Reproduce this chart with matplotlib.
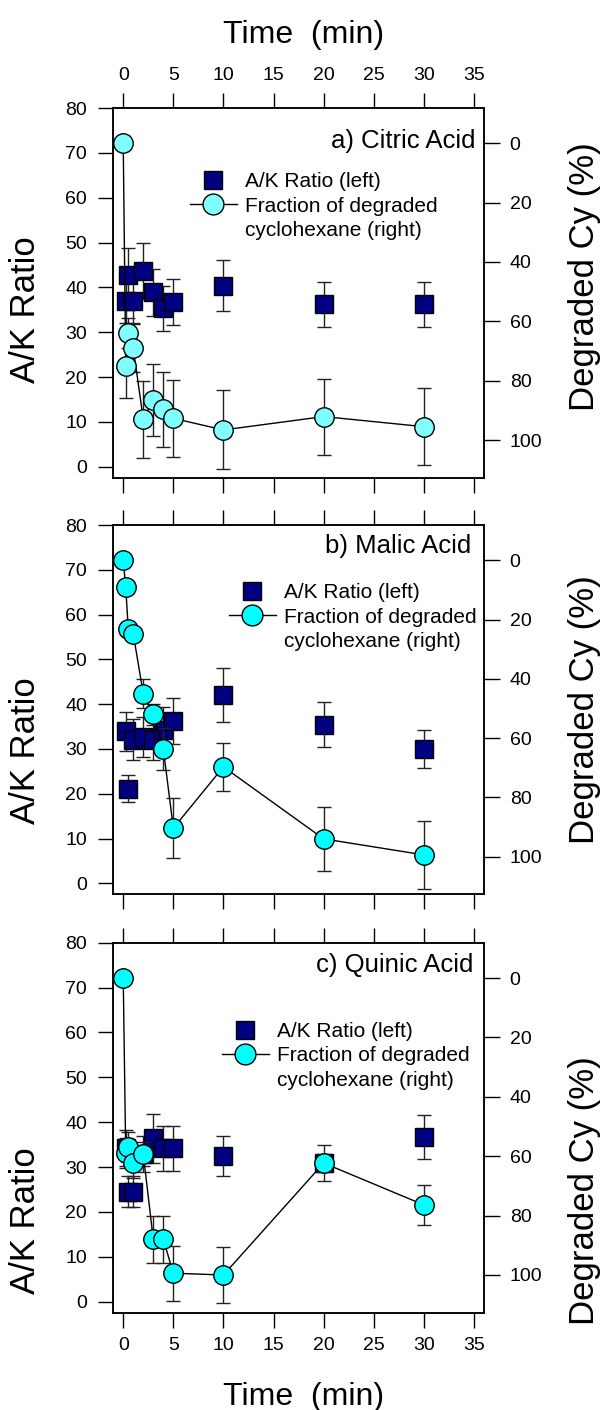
import matplotlib
matplotlib.use("Agg")
import matplotlib.pyplot as plt
from matplotlib.lines import Line2D

plt.rcParams['font.family'] = ['Liberation Sans', 'DejaVu Sans']

# ---------------- data ----------------
panel_titles = ["a) Citric Acid", "b) Malic Acid", "c) Quinic Acid"]

time_sq = [0.25, 0.5, 1, 2, 3, 4, 5, 10, 20, 30]
time_cy = [0, 0.25, 0.5, 1, 2, 3, 4, 5, 10, 20, 30]

ak_a = [37.0, 42.7, 37.0, 43.7, 38.9, 35.3, 36.8, 40.4, 36.2, 36.2]
ak_err_a = [5.0, 6.0, 5.0, 6.3, 5.3, 5.0, 5.1, 5.7, 5.1, 5.1]
cy_a = [0, 75.0, 64.0, 69.0, 93.0, 86.5, 89.7, 92.7, 96.6, 92.1, 95.5]
cy_err_a = [0, 10.7, 5.0, 8.0, 13.0, 12.0, 12.5, 13.0, 13.3, 12.8, 13.0]

ak_b = [33.9, 21.1, 32.1, 32.7, 32.1, 34.3, 36.2, 42.1, 35.4, 30.0]
ak_err_b = [4.3, 3.0, 4.5, 4.5, 4.5, 5.0, 5.2, 6.0, 5.0, 4.2]
cy_b = [0, 9.0, 23.1, 24.8, 45.0, 52.0, 63.6, 90.4, 69.7, 94.0, 99.4]
cy_err_b = [0, 2.5, 2.0, 2.0, 5.0, 3.6, 7.0, 10.2, 8.0, 10.7, 11.5]

ak_c = [34.2, 24.5, 24.5, 33.0, 36.4, 34.2, 34.2, 32.5, 31.0, 36.7]
ak_err_c = [4.0, 3.5, 3.5, 4.0, 5.5, 5.0, 5.0, 4.5, 4.0, 5.0]
cy_c = [0, 59.0, 57.0, 62.2, 59.3, 88.0, 88.0, 99.4, 100.0, 62.3, 76.4]
cy_err_c = [0, 5.0, 5.0, 5.0, 4.0, 8.0, 8.0, 9.2, 9.3, 3.0, 6.8]

ak_sets = [ak_a, ak_b, ak_c]
ak_err_sets = [ak_err_a, ak_err_b, ak_err_c]
cy_sets = [cy_a, cy_b, cy_c]
cy_err_sets = [cy_err_a, cy_err_b, cy_err_c]

x_ticks = [0, 5, 10, 15, 20, 25, 30, 35]
left_ticks = [0, 10, 20, 30, 40, 50, 60, 70, 80]
right_ticks = [0, 20, 40, 60, 80, 100]

legend_labels = ["A/K Ratio (left)", "Fraction of degraded", "cyclohexane (right)"]

# ---------------- style / layout ----------------
navy = "#000080"
cyan_colors = ["#80FFFF", "#00FFFF", "#00FFFF"]
W, H = 601, 1410
ax_left_px, ax_right_px = 112.7, 484.0
panel_px = [(108.0, 477.7), (525.0, 894.3), (942.7, 1312.7)]
title_pos = [(0.976, 0.911), (0.967, 0.943), (0.971, 0.940)]
legend_pos = [(0.208, 0.826), (0.313, 0.842), (0.294, 0.786)]
ak_label_y = [0.454, 0.39, 0.25]
cy_label_y = [0.544, 0.50, 0.33]

fig = plt.figure(figsize=(W / 100, H / 100), dpi=100)

for i in range(3):
    top, bot = panel_px[i]
    rect = [ax_left_px / W, 1 - bot / H, (ax_right_px - ax_left_px) / W, (bot - top) / H]
    ax = fig.add_axes(rect)
    ax.set_xlim(-1.05, 36)
    ax.set_ylim(-2.45, 80)
    ax2 = ax.twinx()
    ax2.set_ylim(112.7, -11.9)

    ax.errorbar(time_sq, ak_sets[i], yerr=ak_err_sets[i], fmt='s', ms=13,
                mfc=navy, mec='black', mew=1, ecolor='#222222', elinewidth=1,
                capsize=5, capthick=1, zorder=3)
    ax2.errorbar(time_cy, cy_sets[i], yerr=cy_err_sets[i], fmt='o-', color='black',
                 lw=1, ms=14, mfc=cyan_colors[i], mec='black', mew=1,
                 ecolor='#222222', elinewidth=1, capsize=5, capthick=1, zorder=3)

    ax.set_xticks(x_ticks)
    ax.set_yticks(left_ticks)
    ax2.set_yticks(right_ticks)
    ax.tick_params(axis='x', which='both', top=True, bottom=True, direction='out',
                   length=10.5, width=1, labelsize=14, pad=7,
                   labeltop=(i == 0), labelbottom=(i == 2))
    ax.tick_params(axis='y', direction='out', length=10.5, width=1, labelsize=14, pad=8)
    ax2.tick_params(axis='y', direction='out', length=11.5, width=1, labelsize=14, pad=7)
    for a in (ax, ax2):
        for s in a.spines.values():
            s.set_linewidth(1.1)

    ax.set_ylabel("A/K Ratio", fontsize=25, va='center', ha='center')
    ax.yaxis.set_label_coords(-0.236, ak_label_y[i])
    ax2.set_ylabel("Degraded Cy (%)", fontsize=25, va='center', ha='center', rotation=90)
    ax2.yaxis.set_label_coords(1.272, cy_label_y[i])

    if i == 0:
        ax.xaxis.set_label_position('top')
        ax.set_xlabel("Time  (min)", fontsize=23, va='center', ha='center')
        ax.xaxis.set_label_coords(0.513, 1.197)
    if i == 2:
        ax.set_xlabel("Time  (min)", fontsize=23, va='center', ha='center')
        ax.xaxis.set_label_coords(0.513, -0.228)

    ax2.text(title_pos[i][0], title_pos[i][1], panel_titles[i], transform=ax.transAxes,
             ha='right', va='center', fontsize=18.5)

    h1 = Line2D([], [], marker='s', ls='none', ms=13, mfc=navy, mec='black', mew=1)
    h2 = Line2D([], [], marker='o', ls='-', color='black', lw=1, ms=15,
                mfc=cyan_colors[i], mec='black', mew=1)
    h3 = Line2D([], [], ls='none')
    ax2.legend([h1, h2, h3], legend_labels, loc='upper left',
               bbox_to_anchor=legend_pos[i], frameon=False, fontsize=15,
               handlelength=2.25, handletextpad=0.38, labelspacing=0.26,
               borderpad=0, borderaxespad=0)

fig.savefig("out.png", dpi=100)
